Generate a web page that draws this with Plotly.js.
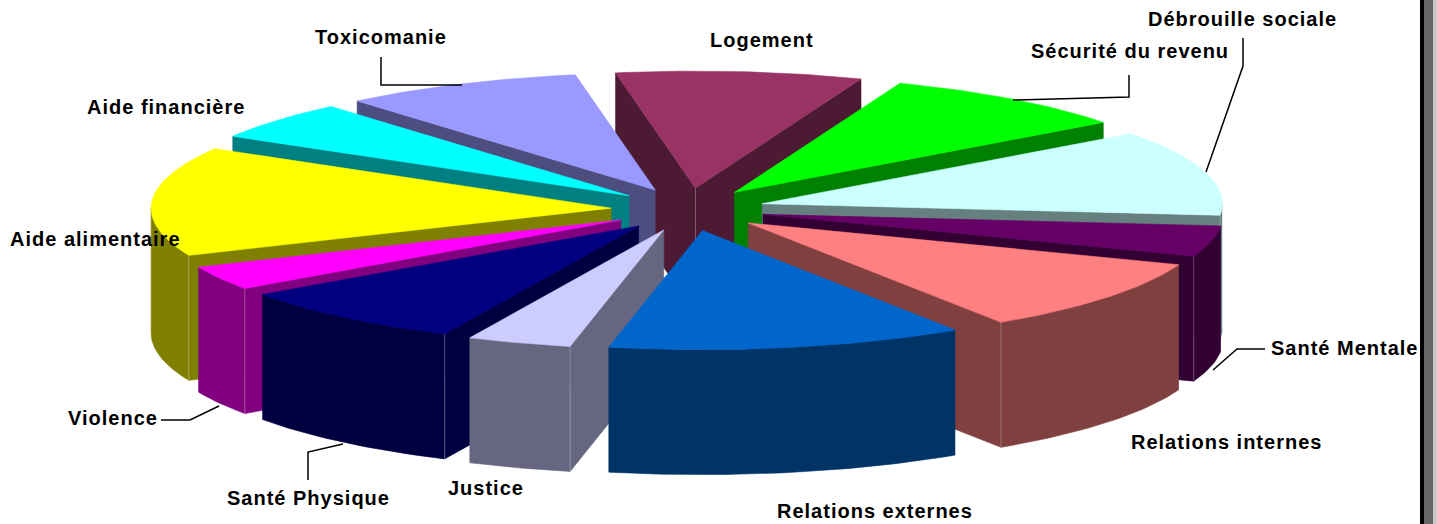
<!DOCTYPE html>
<html>
<head>
<meta charset="utf-8">
<script src="https://cdn.plot.ly/plotly-3.0.1.min.js"></script>
<style>
html,body{margin:0;padding:0;background:#fff;overflow:hidden}
.annotation-text{letter-spacing:1px}
</style>
</head>
<body>
<div id="chart" style="width:1437px;height:524px"></div>
<script>
// Data, clockwise from the top
const categories = ["Logement","Sécurité du revenu","Débrouille sociale","Santé Mentale","Relations internes","Relations externes","Justice","Santé Physique","Violence","Aide alimentaire","Aide financière","Toxicomanie"];
const values = [31.1,32.2,42.3,15,36.1,45.1,13.2,29.9,11.8,53.9,19.1,30.4];
const topColors = ["#993366","#00ff00","#ccffff","#660066","#ff8080","#0066cc","#ccccff","#000080","#ff00ff","#ffff00","#00ffff","#9999ff"];
const wallColors = ["#4d1a33","#008000","#668080","#330033","#804040","#003366","#666680","#000040","#800080","#808000","#008080","#4d4d80"];
const labelX = [762,1130,1242,1344,1226,875,486,308,113,95,166,381];
const labelY = [40,51,19,348,442,511,488,498,418,239,107,37];
// Leader lines [x list, y list]
const leaders = [
  [[381,381,462],[57,85,85]],
  [[1129,1129,1013],[75,97,100]],
  [[1243,1243,1206],[38,66,172]],
  [[1265,1237,1213],[349,349,370]],
  [[161,190,219],[420,420,406]],
  [[308,308,343],[480,452,444]]
];

// Projection of the exploded disc
const cx = 688, cy = 209.5, rx = 460, ryBack = 117, ryFront = 119, depth = 125, explode = 77, explodeY = 21.5, startDeg = -10;
const rad = d => d * Math.PI / 180;
const total = values.reduce((a,b)=>a+b,0);
const rimPoint = (c, deg, dz) => {
  const a = rad(deg), cs = Math.cos(a);
  return [c[0]+rx*Math.sin(a), c[1]-(cs>0?ryBack:ryFront)*cs+dz];
};
function arc(c, a0, a1, dz) {
  const pts = [], n = Math.max(2, Math.ceil(Math.abs(a1-a0)));
  for (let i=0;i<=n;i++) pts.push(rimPoint(c, a0+(a1-a0)*i/n, dz));
  return pts;
}
const traces = [];
function poly(pts, color){
  traces.push({type:"scatter",mode:"lines",x:pts.map(p=>p[0]),y:pts.map(p=>p[1]),fill:"toself",
    fillcolor:color,line:{color:color,width:0.6},hoverinfo:"skip",showlegend:false});
}
function edge(p, q){
  traces.push({type:"scatter",mode:"lines",x:[p[0],q[0]],y:[p[1],q[1]],
    line:{color:"rgba(255,255,255,0.28)",width:1},hoverinfo:"skip",showlegend:false});
}
let acc = startDeg;
const slices = values.map((v,i)=>{
  const s = acc, e = acc + v/total*360; acc = e;
  const m = rad((s+e)/2);
  return {i,s,e,m,c:[cx+explode*Math.sin(m),cy-explodeY*Math.cos(m)]};
});
slices.sort((a,b)=>Math.cos(b.m)-Math.cos(a.m));
slices.forEach(sl=>{
  const {i,s,e,c} = sl, wall = wallColors[i];
  const rim = a => rimPoint(c,a,0);
  const low = p => [p[0],p[1]+depth];
  const showS = Math.sin(rad(s))<0, showE = Math.sin(rad(e))>0;
  if (showS) { const r=rim(s); poly([c,r,low(r),low(c),c],wall); }
  if (showE) { const r=rim(e); poly([c,r,low(r),low(c),c],wall); }
  // outer wall, front half only
  const a0=Math.max(s,90), a1=Math.min(e,270);
  if (a1>a0) {
    poly(arc(c,a0,a1,0).concat(arc(c,a1,a0,depth)),wall);
    if (showS && s>=90) edge(rim(s),low(rim(s)));
    if (showE && e<=270) edge(rim(e),low(rim(e)));
  }
  if (showS && showE) edge(c,low(c));
  // top face
  poly([c].concat(arc(c,s,e,0),[c]),topColors[i]);
});
leaders.forEach(l=>traces.push({type:"scatter",mode:"lines",x:l[0],y:l[1],line:{color:"#000",width:1.5},hoverinfo:"skip",showlegend:false}));

const layout = {
  width:1437,height:524,margin:{l:0,r:0,t:0,b:0},paper_bgcolor:"#fff",plot_bgcolor:"#fff",showlegend:false,
  xaxis:{range:[0,1437],visible:false,fixedrange:true},
  yaxis:{range:[524,0],visible:false,fixedrange:true},
  annotations:categories.map((t,i)=>({text:"<b>"+t+"</b>",x:labelX[i],y:labelY[i],xref:"x",yref:"y",showarrow:false,
    xanchor:"center",yanchor:"middle",font:{family:"Liberation Sans",size:20,color:"#000"}})),
  shapes:[
    {type:"rect",xref:"x",yref:"y",x0:1420,x1:1424,y0:0,y1:524,fillcolor:"#000",line:{width:0},layer:"above"},
    {type:"rect",xref:"x",yref:"y",x0:1424,x1:1433,y0:0,y1:524,fillcolor:"#666",line:{width:0},layer:"above"},
    {type:"rect",xref:"x",yref:"y",x0:1433,x1:1437,y0:0,y1:524,fillcolor:"#c8c8c8",line:{width:0},layer:"above"}
  ]
};
Plotly.newPlot("chart",traces,layout,{displayModeBar:false,staticPlot:true});
</script>
</body>
</html>
